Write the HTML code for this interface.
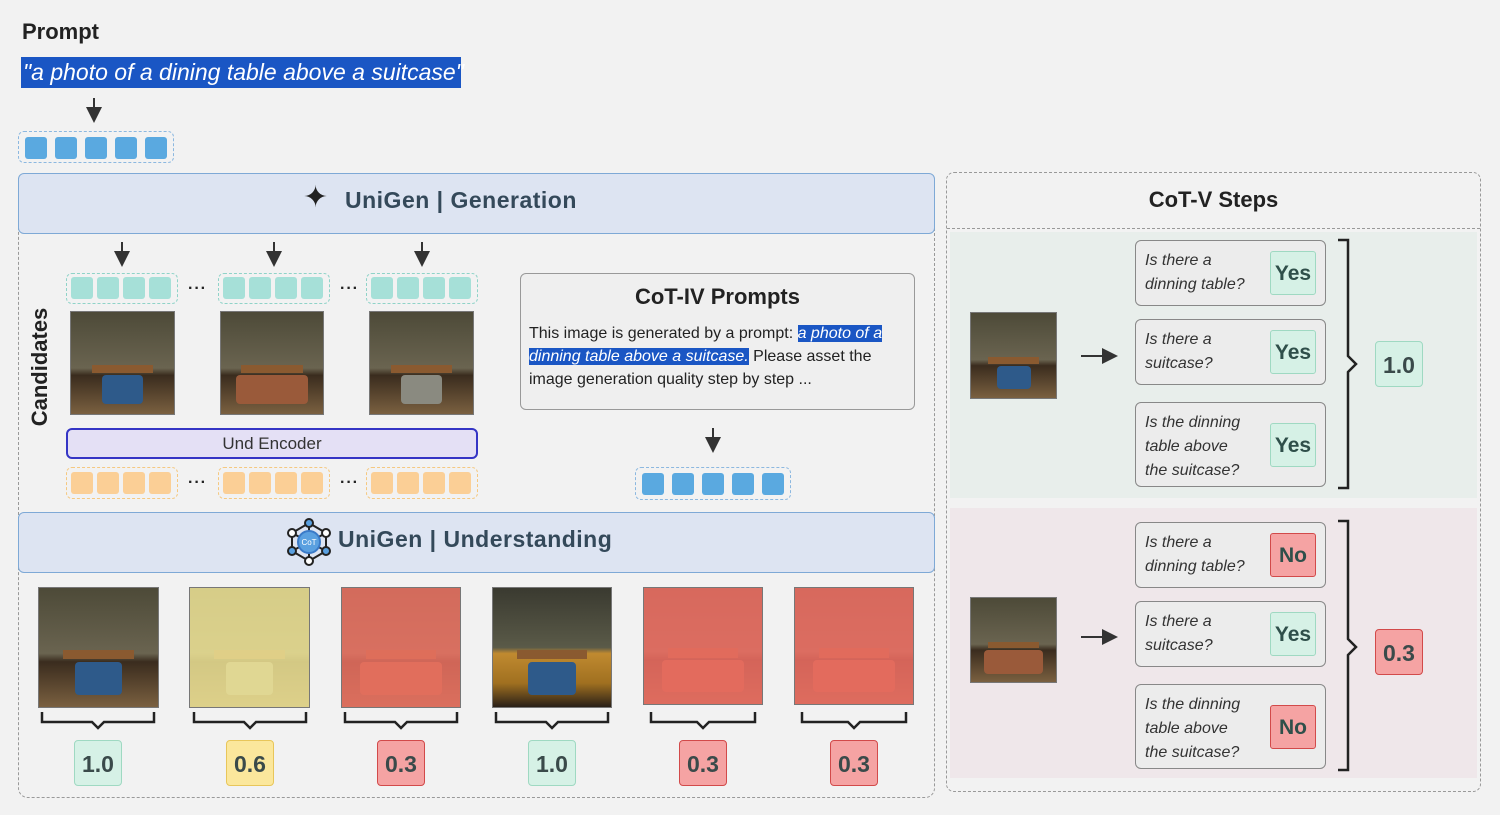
<!DOCTYPE html>
<html><head><meta charset="utf-8"><style>
*{margin:0;padding:0;box-sizing:border-box}
body{width:1500px;height:815px;background:#f2f2f2;font-family:"Liberation Sans","DejaVu Sans",sans-serif;position:relative;overflow:hidden;color:#222}
.a{position:absolute}
.tok{position:absolute;width:22px;height:22px;border-radius:3px}
.img{position:absolute;border:1px solid #777;background:linear-gradient(to bottom,#4d4a38 0%,#6a6450 55%,#3a2c1e 62%,#7a6040 100%);overflow:hidden}
.img:before{content:"";position:absolute;left:20%;top:52%;width:60%;height:8%;background:#8a5a30}
.img:after{content:"";position:absolute;left:30%;top:62%;width:40%;height:28%;background:#2e5a8a;border-radius:4px}
.img.b:after{background:#9a5a3a;left:15%;width:70%}
.img.c:after{background:#8a8a80}
.ov{position:absolute;inset:0;z-index:2}
.score{position:absolute;width:48px;height:46px;border-radius:4px;font-weight:bold;font-size:23px;color:#3a4a4a;text-align:center;line-height:46px}
.g{background:#d6f1e6;border:1.5px solid #9fd9c2}
.y{background:#fbe79c;border:1.5px solid #e8c65a}
.r{background:#f5a3a3;border:1.5px solid #d24a4a}
.q{position:absolute;left:1135px;width:191px;background:#ececec;border:1.5px solid #888;border-radius:6px;font-style:italic;font-size:16px;color:#333;padding:8px 0 0 9px;line-height:24px}
.ans{position:absolute;right:9px;width:46px;height:44px;border-radius:3px;font-style:normal;font-weight:bold;font-size:21px;text-align:center;line-height:44px;color:#2f4f4a}
.dash{position:absolute;border:1.5px dashed #999;border-radius:6px}
.dots{position:absolute;font-weight:bold;font-size:16px;letter-spacing:1px}
</style></head><body>
<div class="a" style="left:22px;top:19px;font-size:22px;font-weight:bold">Prompt</div>
<div class="a" style="left:21px;top:57px;width:440px;height:31px;background:#1a56c4;color:#fff;font-style:italic;font-size:23px;line-height:30px;padding-left:2px;white-space:nowrap">"a photo of a dining table above a suitcase"</div>
<div class="dash" style="left:18px;top:131px;width:156px;height:32px;border-color:#8cb8e0"></div>
<div class="tok" style="left:25px;top:137px;background:#5aa9e0"></div><div class="tok" style="left:55px;top:137px;background:#5aa9e0"></div><div class="tok" style="left:85px;top:137px;background:#5aa9e0"></div><div class="tok" style="left:115px;top:137px;background:#5aa9e0"></div><div class="tok" style="left:145px;top:137px;background:#5aa9e0"></div>

<div class="dash" style="left:18px;top:180px;width:917px;height:618px;border-radius:10px"></div>
<div class="a" style="left:18px;top:173px;width:917px;height:61px;background:#dde4f2;border:1.5px solid #7ea9d6;border-radius:6px"></div>
<div class="a" style="left:303px;top:180px;font-size:30px">✦</div>
<div class="a" style="left:345px;top:187px;font-size:23px;color:#34495a;font-weight:bold;letter-spacing:0.5px">UniGen | Generation</div>

<div class="a" style="top:367px;transform:translate(-50%,-50%) rotate(-90deg);left:40px;font-weight:bold;font-size:22px;white-space:nowrap">Candidates</div>

<div class="dash" style="left:66px;top:273px;width:112px;height:31px;border-color:#8fd3c8"></div>
<div class="dash" style="left:218px;top:273px;width:112px;height:31px;border-color:#8fd3c8"></div>
<div class="dash" style="left:366px;top:273px;width:112px;height:31px;border-color:#8fd3c8"></div>
<div class="tok" style="left:71px;top:277px;background:#a6e0d8"></div><div class="tok" style="left:97px;top:277px;background:#a6e0d8"></div><div class="tok" style="left:123px;top:277px;background:#a6e0d8"></div><div class="tok" style="left:149px;top:277px;background:#a6e0d8"></div>
<div class="tok" style="left:223px;top:277px;background:#a6e0d8"></div><div class="tok" style="left:249px;top:277px;background:#a6e0d8"></div><div class="tok" style="left:275px;top:277px;background:#a6e0d8"></div><div class="tok" style="left:301px;top:277px;background:#a6e0d8"></div>
<div class="tok" style="left:371px;top:277px;background:#a6e0d8"></div><div class="tok" style="left:397px;top:277px;background:#a6e0d8"></div><div class="tok" style="left:423px;top:277px;background:#a6e0d8"></div><div class="tok" style="left:449px;top:277px;background:#a6e0d8"></div>
<div class="dots" style="left:188px;top:280px">···</div><div class="dots" style="left:340px;top:280px">···</div>

<div class="img" style="left:70px;top:311px;width:105px;height:104px"></div>
<div class="img b" style="left:220px;top:311px;width:104px;height:104px"></div>
<div class="img c" style="left:369px;top:311px;width:105px;height:104px"></div>

<div class="a" style="left:66px;top:428px;width:412px;height:31px;background:#e4e0f5;border:2px solid #3535c5;border-radius:6px;text-align:center;font-size:17px;line-height:27px;color:#333">Und Encoder</div>

<div class="dash" style="left:66px;top:467px;width:112px;height:32px;border-color:#f5c880"></div>
<div class="dash" style="left:218px;top:467px;width:112px;height:32px;border-color:#f5c880"></div>
<div class="dash" style="left:366px;top:467px;width:112px;height:32px;border-color:#f5c880"></div>
<div class="tok" style="left:71px;top:472px;background:#fbcf96"></div><div class="tok" style="left:97px;top:472px;background:#fbcf96"></div><div class="tok" style="left:123px;top:472px;background:#fbcf96"></div><div class="tok" style="left:149px;top:472px;background:#fbcf96"></div>
<div class="tok" style="left:223px;top:472px;background:#fbcf96"></div><div class="tok" style="left:249px;top:472px;background:#fbcf96"></div><div class="tok" style="left:275px;top:472px;background:#fbcf96"></div><div class="tok" style="left:301px;top:472px;background:#fbcf96"></div>
<div class="tok" style="left:371px;top:472px;background:#fbcf96"></div><div class="tok" style="left:397px;top:472px;background:#fbcf96"></div><div class="tok" style="left:423px;top:472px;background:#fbcf96"></div><div class="tok" style="left:449px;top:472px;background:#fbcf96"></div>
<div class="dots" style="left:188px;top:474px">···</div><div class="dots" style="left:340px;top:474px">···</div>

<div class="a" style="left:520px;top:273px;width:395px;height:137px;background:#efefef;border:1.5px solid #999;border-radius:6px"></div>
<div class="a" style="left:520px;top:284px;width:395px;text-align:center;font-weight:bold;font-size:22px">CoT-IV Prompts</div>
<div class="a" style="left:529px;top:322px;width:385px;font-size:16px;line-height:23px;color:#222">This image is generated by a prompt: <span style="background:#1a56c4;color:#fff;font-style:italic">a photo of a dinning table above a suitcase.</span> Please asset the image generation quality step by step ...</div>

<div class="dash" style="left:635px;top:467px;width:156px;height:33px;border-color:#8cb8e0"></div>
<div class="tok" style="left:642px;top:473px;background:#5aa9e0"></div><div class="tok" style="left:672px;top:473px;background:#5aa9e0"></div><div class="tok" style="left:702px;top:473px;background:#5aa9e0"></div><div class="tok" style="left:732px;top:473px;background:#5aa9e0"></div><div class="tok" style="left:762px;top:473px;background:#5aa9e0"></div>

<div class="a" style="left:18px;top:512px;width:917px;height:61px;background:#dde4f2;border:1.5px solid #7ea9d6;border-radius:6px"></div>
<svg class="a" style="left:286px;top:518px" width="46" height="48"><g stroke="#222" stroke-width="2" fill="#fff"><line x1="23" y1="6" x2="23" y2="42"/><line x1="6" y1="15" x2="40" y2="33"/><line x1="40" y1="15" x2="6" y2="33"/><polygon points="23,5 40,15 40,33 23,43 6,33 6,15" fill="none"/><circle cx="23" cy="24" r="11" fill="#5aa0e0" stroke="#3a7ac8"/><circle cx="23" cy="5" r="4" fill="#5aa0e0"/><circle cx="40" cy="15" r="4"/><circle cx="40" cy="33" r="4" fill="#5aa0e0"/><circle cx="23" cy="43" r="4"/><circle cx="6" cy="33" r="4" fill="#5aa0e0"/><circle cx="6" cy="15" r="4"/></g><text x="23" y="27" font-size="8" fill="#fff" text-anchor="middle" font-family="Liberation Sans">CoT</text></svg>
<div class="a" style="left:338px;top:526px;font-size:23px;color:#34495a;font-weight:bold;letter-spacing:0.5px">UniGen | Understanding</div>

<div class="img" style="left:38px;top:587px;width:121px;height:121px"></div>
<div class="img c" style="left:189px;top:587px;width:121px;height:121px"><div class="ov" style="background:rgba(238,228,150,.85)"></div></div>
<div class="img b" style="left:341px;top:587px;width:120px;height:121px"><div class="ov" style="background:rgba(240,115,100,.82)"></div></div>
<div class="img" style="left:492px;top:587px;width:120px;height:121px;background:linear-gradient(to bottom,#3a3a30 0%,#5a5a48 50%,#c08a30 55%,#a07020 80%,#2a2018 100%)"></div>
<div class="img b" style="left:643px;top:587px;width:120px;height:118px"><div class="ov" style="background:rgba(240,110,100,.85)"></div></div>
<div class="img b" style="left:794px;top:587px;width:120px;height:118px"><div class="ov" style="background:rgba(240,110,100,.85)"></div></div>

<div class="score g" style="left:74px;top:740px">1.0</div>
<div class="score y" style="left:226px;top:740px">0.6</div>
<div class="score r" style="left:377px;top:740px">0.3</div>
<div class="score g" style="left:528px;top:740px">1.0</div>
<div class="score r" style="left:679px;top:740px">0.3</div>
<div class="score r" style="left:830px;top:740px">0.3</div>

<div class="dash" style="left:946px;top:172px;width:535px;height:620px;border-radius:8px"></div>
<div class="a" style="left:947px;top:228px;width:533px;border-top:1.5px dashed #999"></div>
<div class="a" style="left:946px;top:187px;width:535px;text-align:center;font-weight:bold;font-size:22px">CoT-V Steps</div>
<div class="a" style="left:950px;top:232px;width:527px;height:266px;background:#e8eeeb"></div>
<div class="a" style="left:950px;top:508px;width:527px;height:270px;background:#efe7ea"></div>

<div class="img" style="left:970px;top:312px;width:87px;height:87px"></div>
<div class="img b" style="left:970px;top:597px;width:87px;height:86px"></div>

<div class="q" style="top:240px;height:66px">Is there a<br>dinning table?<div class="ans g" style="top:10px">Yes</div></div>
<div class="q" style="top:319px;height:66px">Is there a<br>suitcase?<div class="ans g" style="top:10px">Yes</div></div>
<div class="q" style="top:402px;height:85px">Is the dinning<br>table above<br>the suitcase?<div class="ans g" style="top:20px">Yes</div></div>
<div class="score g" style="left:1375px;top:341px">1.0</div>

<div class="q" style="top:522px;height:66px">Is there a<br>dinning table?<div class="ans r" style="top:10px">No</div></div>
<div class="q" style="top:601px;height:66px">Is there a<br>suitcase?<div class="ans g" style="top:10px">Yes</div></div>
<div class="q" style="top:684px;height:85px">Is the dinning<br>table above<br>the suitcase?<div class="ans r" style="top:20px">No</div></div>
<div class="score r" style="left:1375px;top:629px">0.3</div>

<svg class="a" style="left:0;top:0;z-index:5" width="1500" height="815">
<defs><marker id="ar" markerWidth="8" markerHeight="8" refX="4" refY="4" orient="auto"><path d="M0,0 L8,4 L0,8 z" fill="#333"/></marker></defs>
<g stroke="#333" stroke-width="2" fill="none">
<line x1="94" y1="98" x2="94" y2="115" marker-end="url(#ar)"/>
<line x1="122" y1="242" x2="122" y2="259" marker-end="url(#ar)"/>
<line x1="274" y1="242" x2="274" y2="259" marker-end="url(#ar)"/>
<line x1="422" y1="242" x2="422" y2="259" marker-end="url(#ar)"/>
<line x1="713" y1="428" x2="713" y2="445" marker-end="url(#ar)"/>
<line x1="1081" y1="356" x2="1110" y2="356" marker-end="url(#ar)"/>
<line x1="1081" y1="637" x2="1110" y2="637" marker-end="url(#ar)"/>
</g>
<g stroke="#222" stroke-width="2.5" fill="none">
<path d="M42,712 v10 h50 l6,6 l6,-6 h50 v-10"/>
<path d="M194,712 v10 h50 l6,6 l6,-6 h50 v-10"/>
<path d="M345,712 v10 h50 l6,6 l6,-6 h50 v-10"/>
<path d="M496,712 v10 h50 l6,6 l6,-6 h50 v-10"/>
<path d="M651,712 v10 h46 l6,6 l6,-6 h46 v-10"/>
<path d="M802,712 v10 h46 l6,6 l6,-6 h46 v-10"/>
<path d="M1338,240 h10 v116 l8,8 l-8,8 v116 h-10"/>
<path d="M1338,521 h10 v118 l8,8 l-8,8 v115 h-10"/>
</g>
</svg>
</body></html>
